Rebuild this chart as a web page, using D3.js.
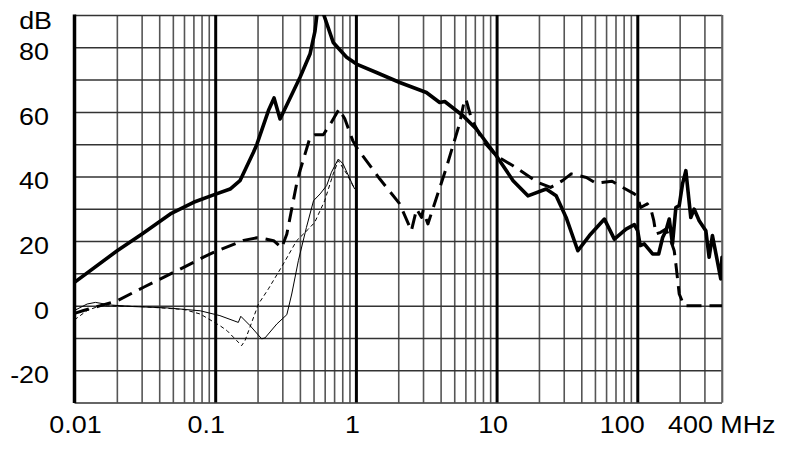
<!DOCTYPE html>
<html><head><meta charset="utf-8">
<script src="https://cdn.jsdelivr.net/npm/d3@7"></script>
<style>
html,body{margin:0;padding:0;background:#fff;}
svg{display:block;}
text{font-family:"Liberation Sans",Arial,Helvetica,sans-serif;fill:#000;}
</style></head>
<body><svg id="c" width="790" height="453"></svg>
<script>
// ---- data ----
const xTickValues = [0.01, 0.1, 1, 10, 100];
const xTickLabels = ["0.01", "0.1", "1", "10", "100"];
const xEndLabel = "400 MHz";
const yTickValues = [80, 60, 40, 20, 0, -20];
const yUnit = "dB";

// thick solid curve [MHz, dB]
const seriesThickSolid = [[0.01,7.2],[0.0201,17],[0.0302,22.2],[0.048,28.4],[0.0702,32],[0.0974,34.3],[0.1277,36.1],[0.15,38.7],[0.187,47.5],[0.198,50],[0.239,60.4],[0.262,64.3],[0.289,57.8],[0.401,70.7],[0.472,77.9],[0.512,85],[0.535,92],[0.571,92],[0.69,81.5],[0.859,76.9],[1.01,74.8],[1.4,72.2],[2.05,69.1],[3.17,66],[3.94,62.9],[4.28,63.2],[5.77,58.8],[7.18,54.7],[9.95,46.4],[13.1,38.7],[16.7,34],[22.5,36.1],[26.5,34],[31.2,27.3],[37.8,17],[45.7,21.7],[58.4,26.8],[68.7,20.6],[83.2,23.7],[95.3,25.1],[100.6,23.2],[105,18.6],[112,19.1],[128.5,16],[141.9,16],[151.4,21.1],[159.7,23.2],[168.7,26.8],[177.9,19.1],[188,30.4],[198.6,31],[209.6,37.7],[221.4,41.8],[240,27.3],[253.5,29.9],[275.4,26.3],[307,23.2],[324,15],[342,21.7],[392,8.3],[400,15]];

// thick dashed curve
const seriesThickDashed = [[0.01,-2.4],[0.0116,-1.5],[0.0153,0],[0.0201,1.5],[0.031,5.7],[0.0535,10.8],[0.0826,15],[0.0974,16.5],[0.159,20.2],[0.198,21],[0.22,20.8],[0.26,20.1],[0.297,17.9],[0.323,22.2],[0.379,37.7],[0.401,41.8],[0.472,52.1],[0.512,52.9],[0.587,52.9],[0.67,56.8],[0.76,60.9],[0.835,57.8],[0.95,51.1],[1.01,49],[1.48,39.2],[2.05,31.5],[2.48,23.2],[2.7,29.9],[2.93,27.3],[3.0,29.4],[3.25,25.3],[4.4,42.8],[5.45,56.3],[5.93,64],[6.1,63.5],[6.63,57.8],[8.0,51],[9.95,46.4],[13.1,43.3],[19.6,38.2],[24.2,36.6],[29.4,38.7],[33.9,40.8],[43.5,39.7],[50.9,37.9],[66.2,38.5],[78.7,36.6],[95.3,34.6],[100,34],[105.6,30.4],[117.8,31.5],[125,29.9],[131,26.3],[135.7,22.2],[146.6,22.7],[159.7,23.7],[173,20.1],[183,17],[188,12.9],[198.6,3.6],[215,0],[400,0]];

// thin solid curve
const seriesThinSolid = [[0.01,-1.5],[0.0123,0.5],[0.0141,1.0],[0.018,0.2],[0.0264,-0.3],[0.0455,-0.7],[0.0783,-1.6],[0.108,-3.1],[0.146,-5.2],[0.152,-3.3],[0.177,-6.2],[0.214,-10.3],[0.226,-10],[0.274,-5.7],[0.323,-2.8],[0.35,3.6],[0.39,13.9],[0.445,24.2],[0.5,32.5],[0.557,34.6],[0.62,37.2],[0.67,41.3],[0.75,45.4],[0.81,43.9],[0.98,36.1]];

// thin dashed curve
const seriesThinDashed = [[0.01,-4.4],[0.0123,-1.5],[0.0153,0],[0.03,-0.3],[0.06,-1.2],[0.0783,-2.6],[0.108,-6.2],[0.121,-7.7],[0.142,-10.8],[0.154,-12.4],[0.163,-10.8],[0.203,0.5],[0.239,5.2],[0.305,12.9],[0.379,20.1],[0.46,23.7],[0.51,25.8],[0.6,32.5],[0.69,40.8],[0.75,44.9],[0.86,40.8],[0.98,36.1]];

// ---- layout ----
const L = 74.5, R = 722, T = 15, B = 402.5;
const FS = 24, SX = 1.12;
const svg = d3.select("#c");
const x = d3.scaleLog().domain([0.01, 400]).range([L, R]);
const y = d3.scaleLinear().domain([-30, 90]).range([B, T]);

// minor vertical grid (1..9 per decade)
const minor = [];
[0.01, 0.1, 1, 10, 100].forEach(d => { for (let k = 2; k <= 9; k++) { const v = d * k; if (v <= 400) minor.push(v); } });

const gMinor = svg.append("g").attr("transform", `translate(0,${B})`)
  .call(d3.axisBottom(x).tickValues(minor).tickSize(-(B - T)).tickFormat(""));
gMinor.select(".domain").remove();
gMinor.selectAll("line").attr("stroke", "#555").attr("stroke-width", 1.6);

// horizontal grid
const hVals = d3.range(-30, 91, 10);
const gH = svg.append("g").attr("transform", `translate(${L},0)`)
  .call(d3.axisLeft(y).tickValues(hVals).tickSize(-(R - L)).tickFormat(""));
gH.select(".domain").remove();
gH.selectAll("line").attr("stroke", "#333").attr("stroke-width", 1.5);

// major decade lines
const gMaj = svg.append("g").attr("transform", `translate(0,${B})`)
  .call(d3.axisBottom(x).tickValues([0.1, 1, 10, 100]).tickSize(-(B - T)).tickFormat(""));
gMaj.select(".domain").remove();
gMaj.selectAll("line").attr("stroke", "#000").attr("stroke-width", 3);

// frame
svg.append("line").attr("x1", R).attr("x2", R).attr("y1", T).attr("y2", B).attr("stroke", "#666").attr("stroke-width", 1.6);
svg.append("line").attr("x1", L).attr("x2", L).attr("y1", T - 0.5).attr("y2", B + 0.5).attr("stroke", "#000").attr("stroke-width", 3.5);

// clip
svg.append("clipPath").attr("id", "clip").append("rect")
  .attr("x", L).attr("y", T).attr("width", R - L).attr("height", B - T);

const line = d3.line().x(d => x(d[0])).y(d => y(d[1]));
const gl = svg.append("g").attr("clip-path", "url(#clip)");

gl.append("path").datum(seriesThinSolid).attr("d", line)
  .attr("fill", "none").attr("stroke", "#000").attr("stroke-width", 1);
gl.append("path").datum(seriesThinDashed).attr("d", line)
  .attr("fill", "none").attr("stroke", "#000").attr("stroke-width", 1).attr("stroke-dasharray", "4,3");
gl.append("path").datum(seriesThickDashed).attr("d", line)
  .attr("fill", "none").attr("stroke", "#000").attr("stroke-width", 3).attr("stroke-dasharray", "15,8")
  .attr("stroke-linejoin", "round");
gl.append("path").datum(seriesThickSolid).attr("d", line)
  .attr("fill", "none").attr("stroke", "#000").attr("stroke-width", 3.6)
  .attr("stroke-linejoin", "round").attr("stroke-linecap", "round");

// text helper (slightly widened glyphs like the reference)
function label(g, px, py, anchor, str) {
  g.append("text").attr("transform", `translate(${px},${py}) scale(${SX},1)`)
    .attr("text-anchor", anchor).attr("font-size", FS).text(str);
}

// y labels
const gy = svg.append("g");
yTickValues.forEach(v => label(gy, 49, y(v) + 13, "end", v));
label(gy, 52, 28.5, "end", yUnit);

// x labels
const xLabelDx = [1, -9, -3.5, -3.5, -15];
const gx = svg.append("g");
xTickValues.forEach((v, i) => label(gx, x(v) + xLabelDx[i], 433, "middle", xTickLabels[i]));
label(gx, x(400) - 54, 433, "start", xEndLabel);
</script></body></html>
